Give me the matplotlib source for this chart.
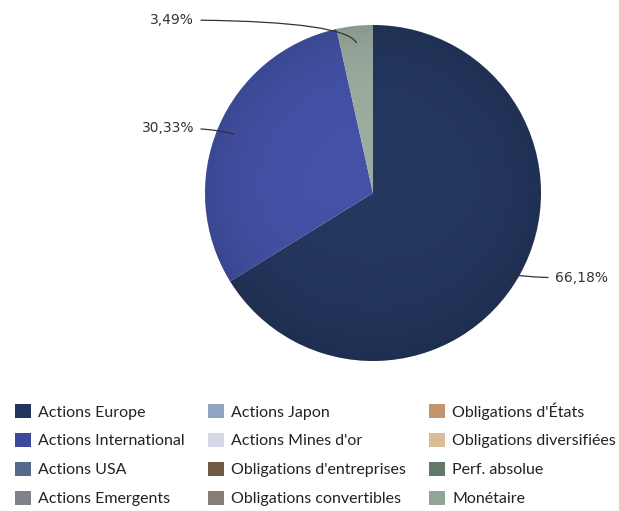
import matplotlib.pyplot as plt
import numpy as np
from matplotlib.patches import Patch, Circle

# DATEN
categories = ["Actions Europe", "Actions International", "Actions USA", "Actions Emergents",
              "Actions Japon", "Actions Mines d'or", "Obligations d'entreprises",
              "Obligations convertibles", "Obligations d'États", "Obligations diversifiées",
              "Perf. absolue", "Monétaire"]
legendColors = ["#22355f", "#3d4a9c", "#56698a", "#7f8288",
                "#8fa3c2", "#d3d8e4", "#705a46", "#867d77",
                "#c4946a", "#dcbc96", "#627a68", "#8fa596"]

pieNames = ["Actions Europe", "Actions International", "Monétaire"]
pieValues = [66.18, 30.33, 3.49]
pieLabels = ["66,18%", "30,33%", "3,49%"]
pieColors = ["#24375f", "#4352a6", "#9cada0"]

W, H = 619, 511
fig = plt.figure(figsize=(W / 100, H / 100), dpi=100)
ax = fig.add_axes([0, 0, 1, 1])

cx, cy, r = 373, H - 193, 168
wedges, _ = ax.pie(pieValues, colors=pieColors, startangle=90, counterclock=False,
                   center=(cx, cy), radius=r, frame=True,
                   wedgeprops=dict(linewidth=0))

# leichte Schattierung zum Rand hin
yy, xx = np.mgrid[-1:1:300j, -1:1:300j]
dist = np.sqrt(xx**2 + yy**2)
shade = np.zeros((300, 300, 4))
shade[..., 3] = np.clip(0.12 * dist**4 + 0.04 * np.clip(-yy, 0, 1), 0, 0.2)
kreis = Circle((cx, cy), r, transform=ax.transData, facecolor="none", edgecolor="none")
ax.add_patch(kreis)
img = ax.imshow(shade, extent=(cx - r, cx + r, cy - r, cy + r), origin="lower", zorder=2)
img.set_clip_path(kreis)

ax.set_xlim(0, W)
ax.set_ylim(0, H)
ax.set_aspect("equal")
ax.axis("off")

# Beschriftungen mit Linien
textPos = [(555, H - 278, "left", 35), (194, H - 128, "right", -20), (194, H - 20, "right", -60)]
for w, lab, (tx, ty, ha, angB) in zip(wedges, pieLabels, textPos):
    ang = np.deg2rad((w.theta1 + w.theta2) / 2)
    px = cx + 0.9 * r * np.cos(ang)
    py = cy + 0.9 * r * np.sin(ang)
    ax.annotate(lab, xy=(px, py), xytext=(tx, ty), ha=ha, va="center",
                fontsize=10, color="#333333", family="DejaVu Sans", zorder=5,
                arrowprops=dict(arrowstyle="-", color="#333333", lw=0.9,
                                connectionstyle="angle3,angleA=0,angleB={0}".format(angB),
                                shrinkA=3, shrinkB=0))

# Legende
handles = [Patch(facecolor=c, edgecolor="none") for c in legendColors]
fig.legend(handles, categories, ncol=3, loc="upper left",
           bbox_to_anchor=(15 / W, 1 - 402 / H), frameon=False,
           prop=dict(family="Lato", size=11.5), handlelength=1.0, handleheight=1.0,
           handletextpad=0.45, labelspacing=0.83, columnspacing=1.45,
           borderpad=0, borderaxespad=0, labelcolor="#222222")

fig.savefig("out.png", dpi=100)
